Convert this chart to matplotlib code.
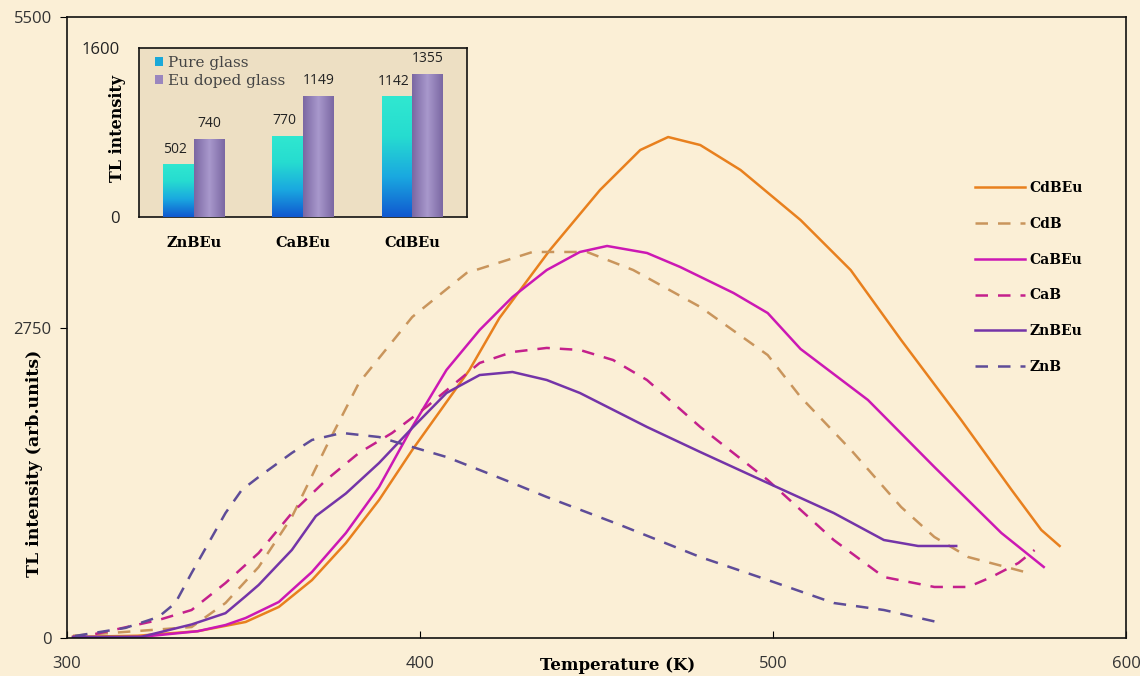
import matplotlib
matplotlib.use("Agg")
import matplotlib.pyplot as plt
import numpy as np
from matplotlib.colors import LinearSegmentedColormap

# ---------------- data ----------------
cdbeu_T = [301.7, 320.0, 337.0, 350.6, 360.0, 369.4, 379.0, 388.4, 397.8, 414.0, 422.5, 436.8,
           451.0, 462.4, 470.3, 479.4, 490.8, 507.8, 522.0, 536.3, 553.3, 567.6, 576.0, 581.2]
cdbeu_I = [10, 20, 60, 142, 275, 513, 841, 1222, 1665, 2374, 2834, 3436,
           3968, 4322, 4437, 4366, 4145, 3702, 3259, 2639, 1931, 1311, 957, 815]

cdb_T = [301.7, 335.3, 344.9, 354.3, 363.7, 373.4, 382.7, 397.8, 413.2, 431.9, 447.3, 460.4,
         479.4, 498.5, 507.8, 522.1, 536.3, 545.7, 555.3, 571.3]
cdb_I = [20, 97, 310, 629, 1072, 1692, 2259, 2843, 3233, 3419, 3419, 3259,
         2932, 2506, 2135, 1665, 1160, 895, 717, 585]

cabeu_T = [301.7, 321.0, 337.0, 344.9, 350.6, 360.0, 369.4, 379.0, 388.4, 397.8, 407.5, 416.9,
           426.2, 435.9, 445.3, 453.0, 464.3, 473.7, 488.8, 498.5, 507.8, 526.9, 545.7, 564.7, 576.7]
cabeu_I = [0, 10, 60, 115, 177, 319, 585, 930, 1337, 1869, 2374, 2728,
           3020, 3259, 3419, 3472, 3410, 3286, 3056, 2878, 2560, 2108, 1515, 930, 629]

cab_T = [301.7, 306.8, 325.9, 335.3, 344.9, 354.3, 363.7, 373.4, 382.7, 392.1, 401.8, 416.9,
         426.2, 435.9, 445.3, 454.7, 464.3, 479.4, 498.5, 517.2, 531.4, 545.7, 555.3, 561.9,
         569.5, 574.1]
cab_I = [10, 27, 159, 248, 487, 753, 1107, 1399, 1639, 1816, 2046, 2436,
         2533, 2569, 2551, 2462, 2285, 1869, 1399, 868, 540, 452, 452, 540,
         664, 779]

znbeu_T = [301.7, 321.0, 335.3, 344.9, 350.6, 354.3, 363.7, 370.5, 379.0, 388.4, 397.8,
           407.5, 416.9, 426.2, 435.9, 445.3, 464.3, 479.4, 498.5, 517.2, 531.4, 541.1, 551.9]
znbeu_I = [10, 10, 120, 220, 370, 470, 780, 1080, 1280, 1550, 1860,
           2170, 2329, 2356, 2285, 2170, 1869, 1647, 1373, 1107, 868, 815, 815]

znb_T = [302.3, 316.5, 325.9, 330.7, 335.3, 340.1, 344.9, 349.5, 354.3, 363.7, 369.4, 377.9,
         388.4, 397.8, 407.5, 416.9, 426.2, 435.9, 456.7, 479.4, 498.5, 517.2, 531.4, 547.7]
znb_I = [18, 89, 186, 310, 576, 841, 1107, 1311, 1426, 1639, 1754, 1816,
         1780, 1692, 1603, 1488, 1373, 1249, 1001, 717, 514, 310, 248, 133]

series_labels = ["CdBEu", "CdB", "CaBEu", "CaB", "ZnBEu", "ZnB"]

inset_categories = ["ZnBEu", "CaBEu", "CdBEu"]
pure_glass = [502, 770, 1142]
eu_doped_glass = [740, 1149, 1355]
inset_legend = ["Pure glass", "Eu doped glass"]

x_ticks = [300, 400, 500, 600]
y_ticks = [0, 2750, 5500]

# ---------------- styling ----------------
BG = "#FBEFD6"
INSET_BG = "#EDDFC3"
SERIF = ["DejaVu Serif"]
SANS = ["Open Sans", "DejaVu Sans"]
W, H = 1140, 676

fig = plt.figure(figsize=(11.4, 6.76), dpi=100)
fig.patch.set_facecolor(BG)

ax = fig.add_axes([67/W, 1 - 638/H, (1126-67)/W, (638-17)/H])
ax.set_facecolor(BG)

styles = [
    (cdbeu_T, cdbeu_I, "#E8801E", "-"),
    (cdb_T, cdb_I, "#C9955C", (0, (5, 4))),
    (cabeu_T, cabeu_I, "#CC18B4", "-"),
    (cab_T, cab_I, "#C4208C", (0, (5, 4))),
    (znbeu_T, znbeu_I, "#7434A8", "-"),
    (znb_T, znb_I, "#5E4C98", (0, (5, 4))),
]
handles = []
for (T, I, c, ls), lab in zip(styles, series_labels):
    h, = ax.plot(T, I, color=c, ls=ls, lw=1.8, label=lab, solid_joinstyle="round")
    handles.append(h)

ax.set_xlim(300, 600)
ax.set_ylim(0, 5500)
ax.set_xticks(x_ticks)
ax.set_yticks(y_ticks)
ax.tick_params(axis="x", direction="in", length=5, pad=13, labelsize=12)
ax.tick_params(axis="y", direction="out", length=5, pad=6, labelsize=12)
for lab in ax.get_xticklabels() + ax.get_yticklabels():
    lab.set_fontfamily(SANS)
    lab.set_color("#333333")
for s in ax.spines.values():
    s.set_color("#111111")
    s.set_linewidth(1.2)

fig.text(618/W, 1 - 665/H, "Temperature (K)", ha="center", va="center",
         fontsize=12, fontweight="bold", family=SERIF)
fig.text(35/W, 1 - 463/H, "TL intensity (arb.units)", ha="center", va="center",
         rotation=90, fontsize=12.5, fontweight="bold", family=SERIF)

ax.legend(handles=handles, loc="upper left", bbox_to_anchor=(975/W, 1 - 181/H),
          bbox_transform=fig.transFigure, frameon=False, handlelength=3.6,
          handletextpad=0.35, labelspacing=1.57, borderpad=0, borderaxespad=0,
          prop={"family": SERIF, "weight": "bold", "size": 10})

# ---------------- inset ----------------
iax = fig.add_axes([139/W, 1 - 217/H, (467-139)/W, (217-48)/H])
iax.set_facecolor(INSET_BG)
x = np.arange(len(inset_categories))
w = 0.28
b1 = iax.bar(x - w/2, pure_glass, width=w, color="#1AA8D8", edgecolor="none",
             label=inset_legend[0], zorder=2)
b2 = iax.bar(x + w/2, eu_doped_glass, width=w, color="#9A86BE", edgecolor="none",
             label=inset_legend[1], zorder=2)

grad_v = np.linspace(0, 1, 256).reshape(-1, 1)
cm_pure = LinearSegmentedColormap.from_list("p", ["#1058D0", "#1AA8E0", "#26DCD0", "#30E8D0"])
grad_h = np.concatenate([np.linspace(0, 1, 128), np.linspace(1, 0, 128)]).reshape(1, -1)
cm_eu = LinearSegmentedColormap.from_list("e", ["#7A67A2", "#A898CC"])
for bars, grad, cm in ((b1, grad_v, cm_pure), (b2, grad_h, cm_eu)):
    for r in bars:
        x0, y0 = r.get_x(), r.get_y()
        im = iax.imshow(grad, cmap=cm, origin="lower", aspect="auto",
                        extent=(x0, x0 + r.get_width(), y0, y0 + r.get_height()), zorder=3)
        im.set_clip_path(r)

for bars, vals, dx in ((b1, pure_glass, -0.03), (b2, eu_doped_glass, 0.0)):
    for r, v in zip(bars, vals):
        iax.text(r.get_x() + r.get_width()/2 + dx, v + 70, f"{v}", ha="center", va="bottom",
                 fontsize=10, family=SANS, color="#222222", zorder=4)

iax.set_xlim(-0.5, 2.5)
iax.set_ylim(0, 1600)
iax.set_yticks([0, 1600])
iax.set_xticks(x)
iax.set_xticklabels(inset_categories)
iax.tick_params(axis="x", length=0, pad=14)
iax.tick_params(axis="y", length=0, pad=14, labelsize=12)
for lab in iax.get_xticklabels():
    lab.set_fontfamily(SERIF)
    lab.set_fontweight("bold")
    lab.set_fontsize(10.5)
for lab in iax.get_yticklabels():
    lab.set_fontfamily(SANS)
    lab.set_color("#222222")
for s in iax.spines.values():
    s.set_color("#111111")
    s.set_linewidth(1.2)
fig.text(117/W, 1 - 128/H, "TL intensity", ha="center", va="center", rotation=90,
         fontsize=11.5, fontweight="bold", family=SERIF)
iax.legend(handles=[b1, b2], loc="upper left", bbox_to_anchor=(155/W, 1 - 56/H),
           bbox_transform=fig.transFigure, frameon=False, handlelength=0.55,
           handleheight=0.55, handletextpad=0.3, labelspacing=0.28, borderaxespad=0,
           borderpad=0, prop={"family": SERIF, "size": 11}, labelcolor="#444444")

fig.savefig("out.png", dpi=100, facecolor=BG)
